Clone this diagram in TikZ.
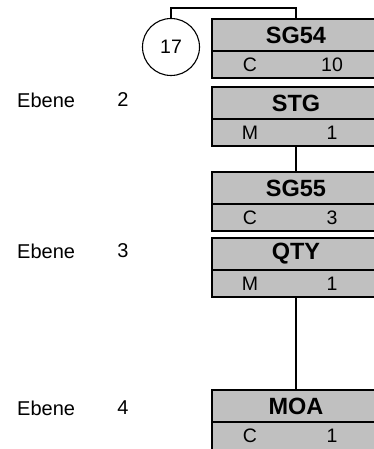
\documentclass[tikz,border=0pt]{standalone}
\usepackage{fontspec}
\setmainfont{Liberation Sans}
\definecolor{segfill}{HTML}{C0C0C0}
\tikzset{
  kopf/.style={draw, line width=1.4pt, fill=segfill, minimum width=168pt,
    minimum height=32pt, inner sep=0pt, font=\bfseries\fontsize{23.5}{23.5}\selectfont},
  fuss/.style={draw, line width=1.4pt, fill=segfill, minimum width=168pt,
    minimum height=27pt, inner sep=0pt},
  eintrag/.style={font=\fontsize{19.5}{19.5}\selectfont, inner sep=0pt},
  ebene/.style={font=\fontsize{20}{20}\selectfont, inner sep=0pt},
  verbindung/.style={line width=1.4pt}
}
\begin{document}
\begin{tikzpicture}[x=1pt,y=-1pt]
      \useasboundingbox (0,0) rectangle (374,449);
      % SG54
      \node[kopf] (sg54) at (296,35) {SG54};
      \node[fuss] (sg54f) at (296,64.5) {};
      \node[eintrag] (sg54s) at (250,64.5) {C};
      \node[eintrag] (sg54r) at (332,64.5) {10};
      \node[draw, line width=1.1pt, circle, minimum size=57pt, inner sep=0pt,
        font=\fontsize{19.5}{19.5}\selectfont] (k17) at (171,47) {17};
      \coordinate (knick) at (171,8);
      % STG
      \node[kopf] (stg) at (296,103) {STG};
      \node[fuss] (stgf) at (296,132.5) {};
      \node[eintrag] (stgs) at (250,132.5) {M};
      \node[eintrag] (stgr) at (332,132.5) {1};
      % SG55
      \node[kopf] (sg55) at (296,188) {SG55};
      \node[fuss] (sg55f) at (296,217.5) {};
      \node[eintrag] (sg55s) at (250,217.5) {C};
      \node[eintrag] (sg55r) at (332,217.5) {3};
      % QTY
      \node[kopf] (qty) at (296,254) {QTY};
      \node[fuss] (qtyf) at (296,283.5) {};
      \node[eintrag] (qtys) at (250,283.5) {M};
      \node[eintrag] (qtyr) at (332,283.5) {1};
      % MOA
      \node[kopf] (moa) at (296,406) {MOA};
      \node[fuss, minimum height=30pt] (moaf) at (296,437) {};
      \node[eintrag] (moas) at (250,435.5) {C};
      \node[eintrag] (moar) at (332,435.5) {1};
      % Ebenen
      \node[ebene, anchor=west] (e2) at (17,100) {Ebene};
      \node[ebene] (n2) at (123,100) {2};
      \node[ebene, anchor=west] (e3) at (17,251) {Ebene};
      \node[ebene] (n3) at (123,251) {3};
      \node[ebene, anchor=west] (e4) at (17,408) {Ebene};
      \node[ebene] (n4) at (123,408) {4};
      % Verbindungen
      \draw[verbindung] (sg54.north) |- (knick) -- (k17.north);
      \draw[verbindung] (stgf.south) -- (sg55.north);
      \draw[verbindung] (qtyf.south) -- (moa.north);
\end{tikzpicture}
\end{document}
